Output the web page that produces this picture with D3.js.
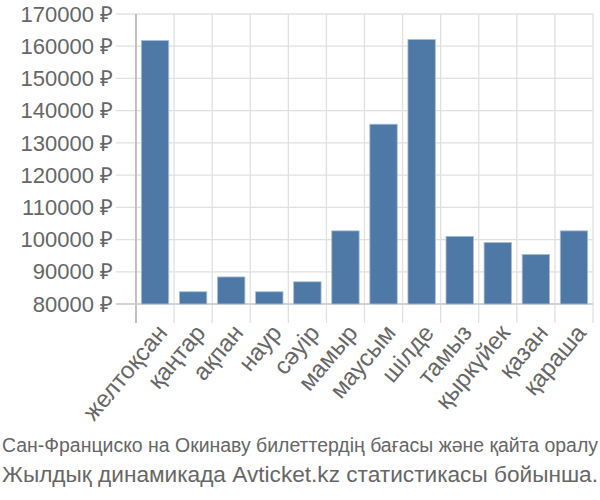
<!DOCTYPE html>
<html><head><meta charset="utf-8">
<script src="https://cdn.jsdelivr.net/npm/d3@7"></script>
<style>body{margin:0;background:#fff}text{font-family:"Liberation Sans",Arial,sans-serif}</style>
</head><body>
<svg id="c" width="600" height="500"></svg>
<script>
const categories = ["желтоқсан","қаңтар","ақпан","наур","сәуір","мамыр","маусым","шілде","тамыз","қыркүйек","қазан","қараша"];
const values = [161800, 83800, 88400, 83800, 86900, 102700, 135800, 162100, 101000, 99100, 95400, 102700];
const yTicks = [80000,90000,100000,110000,120000,130000,140000,150000,160000,170000];
const titleLines = ["Сан-Франциско на Окинаву билеттердің бағасы және қайта оралу","Жылдық динамикада Avticket.kz статистикасы бойынша."];

const svg = d3.select("#c");
const L = 136, R = 593, T = 14, B = 304;
const x = d3.scaleBand().domain(categories).range([L, R]).paddingInner(0.28).paddingOuter(0.14);
const y = d3.scaleLinear().domain([80000,170000]).range([B, T]);
const grid = svg.append("g");
grid.selectAll("line.h").data(yTicks).join("line")
  .attr("x1", L-20).attr("x2", R).attr("y1", d=>y(d)).attr("y2", d=>y(d))
  .attr("stroke","#e0e0e0").attr("stroke-width",1.3);
const bounds = d3.range(categories.length+1).map(i => L + i*(R-L)/categories.length);
grid.selectAll("line.v").data(bounds).join("line")
  .attr("x1", d=>d).attr("x2", d=>d).attr("y1", T).attr("y2", B+19)
  .attr("stroke","#e0e0e0").attr("stroke-width",1.3);
svg.append("line").attr("x1",L).attr("x2",L).attr("y1",T).attr("y2",B+19).attr("stroke","#aaa").attr("stroke-width",1.3);
svg.append("line").attr("x1",L-20).attr("x2",R).attr("y1",B).attr("y2",B).attr("stroke","#ccc").attr("stroke-width",1.3);

svg.append("g").selectAll("rect").data(values).join("rect")
  .attr("x",(d,i)=>x(categories[i])).attr("width",x.bandwidth())
  .attr("y",d=>y(d)).attr("height",d=>B-y(d))
  .attr("fill","#4e79a7").attr("stroke","#a9c0d9").attr("stroke-width",0.8);

svg.append("g").selectAll("text").data(yTicks).join("text")
  .attr("x", L-23).attr("y", d=>y(d)).attr("dy","0.35em")
  .attr("text-anchor","end").attr("fill","#666").style("font-size","22px")
  .text(d=>d+" ₽");

svg.append("g").selectAll("text").data(categories).join("text")
  .attr("text-anchor","end").attr("fill","#666").style("font-size","24px")
  .attr("transform", d=>`translate(${x(d)+x.bandwidth()/2+7},${B+24}) rotate(-50)`)
  .attr("dy","0.35em")
  .text(d=>d);

svg.append("g").selectAll("text").data(titleLines).join("text")
  .attr("x",2).attr("y",(d,i)=>452+i*30).attr("fill","#666")
  .style("font-size",(d,i)=>i?"22px":"19.5px")
  .attr("textLength",596).attr("lengthAdjust","spacingAndGlyphs")
  .text(d=>d);
</script>
</body></html>
